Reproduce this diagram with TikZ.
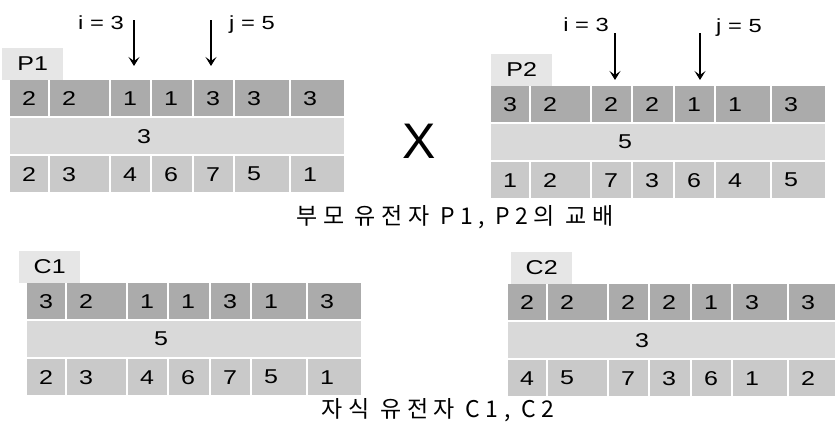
\documentclass[tikz,border=0pt]{standalone}
\usepackage{fontspec}
\setmainfont{Liberation Sans}[FakeStretch=1.25]
\newfontfamily\krfont{Noto Sans CJK KR}[LetterSpace=24]
\newfontfamily\crossfont{Liberation Sans}
\usepackage{tikz}
\usetikzlibrary{arrows.meta, positioning}
\usepackage{xcolor}
\definecolor{geneDark}{HTML}{ABABAB}
\definecolor{geneMid}{HTML}{D9D9D9}
\definecolor{geneLow}{HTML}{C9C9C9}
\definecolor{tagGray}{HTML}{E6E6E6}
\tikzstyle{cell} = [
    rectangle, anchor=north west, minimum height=36pt, inner ysep=0pt,
    inner xsep=12pt, align=left, font=\fontsize{20}{20}\selectfont
]
\tikzstyle{upper} = [cell, fill=geneDark]
\tikzstyle{lower} = [cell, fill=geneLow]
\tikzstyle{middle} = [cell, fill=geneMid, inner xsep=127pt, text width=80pt]
\tikzstyle{tagbox} = [
    rectangle, anchor=south west, fill=tagGray, minimum width=61pt,
    minimum height=32pt, font=\fontsize{20}{20}\selectfont
]
\tikzstyle{cutarrow} = [-{Stealth[length=9pt, width=11pt, inset=4pt]}, line width=1.7pt, black]
\tikzstyle{cutlabel} = [font=\fontsize{19}{19}\selectfont, inner sep=0pt]
\tikzstyle{caption} = [font=\krfont\fontsize{23}{23}\selectfont]
% column offsets and widths of one chromosome
\def\celloffsets{{0,40,101,142,184,225,281}}
\def\cellwidths{{40,61,41,42,41,56,55}}
% one row of seven genes: name, x, y, style, values
\newcommand{\generow}[5]{%
  \foreach \val [count=\k] in {#5} {
    \pgfmathsetmacro{\cx}{#2+\celloffsets[\k-1]}
    \pgfmathsetmacro{\cw}{\cellwidths[\k-1]}
    \node[#4, minimum width=\cw pt-2pt, text width=\cw pt-26pt] (#1\k) at (\cx,#3) {\val};
  }
}
% name, x, y, tag, tag shift, upper, middle, lower
\newcommand{\chromosome}[8]{%
  \node[tagbox] (#1tag) at (#2+#5,#3) {#4};
  \generow{#1u}{#2}{#3}{upper}{#6}
  \node[middle] (#1m) at (#2,#3+38) {#7};
  \generow{#1l}{#2}{#3+76}{lower}{#8}
}

\begin{document}
\begin{tikzpicture}[x=1pt, y=-1pt]

    \fill[white] (0,0) rectangle (835,431);
    \clip (0,0) rectangle (835,431);

    % Parents
    \chromosome{p1}{10}{80}{P1}{-8}{2,2,1,1,3,3,3}{3}{2,3,4,6,7,5,1}
    \chromosome{p2}{491}{86}{P2}{0}{3,2,2,2,1,1,3}{5}{1,2,7,3,6,4,5}

    % Children
    \chromosome{c1}{27}{283}{C1}{-8}{3,2,1,1,3,1,3}{5}{2,3,4,6,7,5,1}
    \chromosome{c2}{508}{284}{C2}{3}{2,2,2,2,1,3,3}{3}{4,5,7,3,6,1,2}

    % Cut points
    \coordinate (p1itop) at (134,20);
    \coordinate (p1ibot) at (134,66);
    \coordinate (p1jtop) at (211,20);
    \coordinate (p1jbot) at (211,66);
    \coordinate (p2itop) at (615,33);
    \coordinate (p2ibot) at (615,80);
    \coordinate (p2jtop) at (700,33);
    \coordinate (p2jbot) at (700,80);

    \draw[cutarrow] (p1itop) -- (p1ibot);
    \draw[cutarrow] (p1jtop) -- (p1jbot);
    \draw[cutarrow] (p2itop) -- (p2ibot);
    \draw[cutarrow] (p2jtop) -- (p2jbot);

    \node[cutlabel, left=10pt of p1itop, yshift=-3pt] (p1ilab) {i = 3};
    \node[cutlabel, right=18pt of p1jtop, yshift=-5pt] (p1jlab) {j = 5};
    \node[cutlabel, left=6pt of p2itop, yshift=8pt] (p2ilab) {i = 3};
    \node[cutlabel, right=16pt of p2jtop, yshift=5pt] (p2jlab) {j = 5};

    % Crossover sign and captions
    \node[font=\crossfont\fontsize{50}{50}\selectfont, inner sep=0pt] (cross) at (419,141) {X};
    \node[caption] (parents) at (455,217) {부모 유전자 P1, P2의 교배};
    \node[caption] (children) at (438,410) {자식 유전자 C1, C2};

\end{tikzpicture}
\end{document}
